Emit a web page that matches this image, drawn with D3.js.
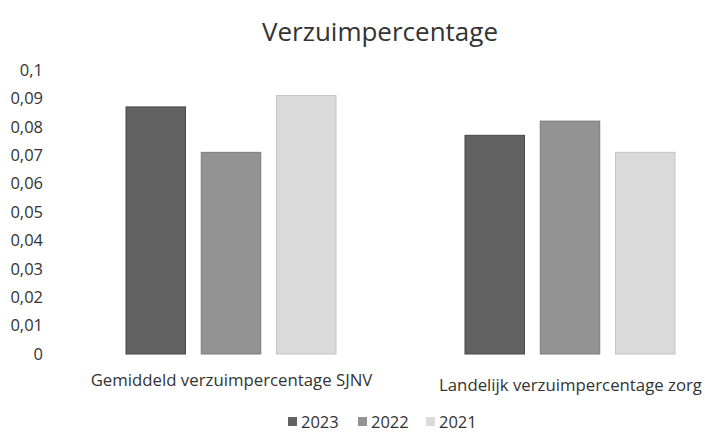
<!DOCTYPE html>
<html>
<head>
<meta charset="utf-8">
<script src="https://cdn.jsdelivr.net/npm/d3@7"></script>
<style>
  html, body { margin: 0; padding: 0; background: #fff; }
  svg text { font-family: "Open Sans", sans-serif; fill: #333; }
</style>
</head>
<body>
<div id="chart"></div>
<script>
// data
const categories = ["Gemiddeld verzuimpercentage SJNV", "Landelijk verzuimpercentage zorg"];
const years = ["2023", "2022", "2021"];
const values2023 = [0.087, 0.077];
const values2022 = [0.071, 0.082];
const values2021 = [0.091, 0.071];
const yTicks = [0, 0.01, 0.02, 0.03, 0.04, 0.05, 0.06, 0.07, 0.08, 0.09, 0.1];

const seriesValues = { "2023": values2023, "2022": values2022, "2021": values2021 };
const fills = { "2023": "#626262", "2022": "#939393", "2021": "#dadada" };
const edges = { "2023": "#474747", "2022": "#7a7a7a", "2021": "#c4c4c4" };

const w = 705, h = 432;

const svg = d3.select("#chart")
  .append("svg")
  .attr("width", w)
  .attr("height", h);

const nl = d3.formatLocale({ decimal: ",", thousands: ".", grouping: [3], currency: ["€", ""] });
const fmt = nl.format("~g");

const x0 = d3.scaleBand().domain(categories).range([62, 740]).padding(0);
const x1 = d3.scaleBand().domain(years).range([64, 274]).paddingInner(0.21);
const y = d3.scaleLinear().domain([0, 0.1]).range([354, 70]);

// title
svg.append("text")
  .attr("x", 380)
  .attr("y", 41)
  .attr("text-anchor", "middle")
  .style("font-size", "26px")
  .text("Verzuimpercentage");

// y axis, labels only
const yAxis = d3.axisLeft(y).tickValues(yTicks).tickSize(0).tickPadding(0).tickFormat(fmt);
const gy = svg.append("g").attr("transform", "translate(43,0)").call(yAxis);
gy.select(".domain").remove();
gy.selectAll("text")
  .style("font-family", "'Open Sans', sans-serif")
  .style("font-size", "16.5px")
  .attr("fill", "#333");

// bars
const rows = categories.map((c, i) => ({ cat: c, vals: years.map(yr => ({ year: yr, v: seriesValues[yr][i] })) }));

const groups = svg.selectAll(".grp")
  .data(rows)
  .enter()
  .append("g")
  .attr("class", "grp")
  .attr("transform", d => `translate(${x0(d.cat)},0)`);

groups.selectAll("rect")
  .data(d => d.vals)
  .enter()
  .append("rect")
  .attr("x", d => x1(d.year))
  .attr("y", d => y(d.v))
  .attr("width", x1.bandwidth())
  .attr("height", d => y(0) - y(d.v))
  .attr("fill", d => fills[d.year])
  .attr("stroke", d => edges[d.year])
  .attr("stroke-width", 1);

// category labels
svg.append("g")
  .selectAll("text")
  .data(categories)
  .enter()
  .append("text")
  .attr("x", d => x0(d) + x0.bandwidth() / 2)
  .attr("y", (d, i) => 386 + i * 5)
  .attr("text-anchor", "middle")
  .style("font-size", "16.8px")
  .text(d => d);

// legend
const legendX = [288, 358, 426];
const legend = svg.append("g")
  .selectAll("g")
  .data(years)
  .enter()
  .append("g")
  .attr("transform", (d, i) => `translate(${legendX[i]},417)`);

legend.append("rect")
  .attr("width", 9)
  .attr("height", 9)
  .attr("fill", d => fills[d]);

legend.append("text")
  .attr("x", 13)
  .attr("y", 10.5)
  .style("font-size", "16.5px")
  .text(d => d);
</script>
</body>
</html>
